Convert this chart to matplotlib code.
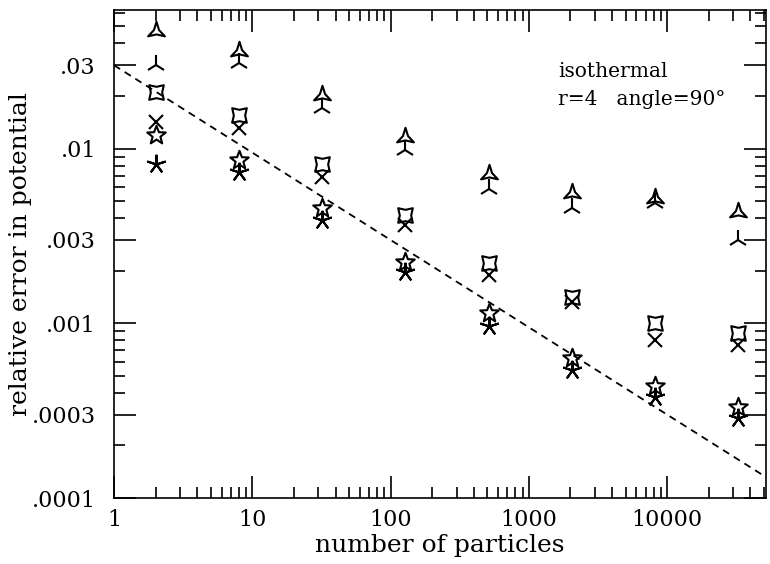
import matplotlib
matplotlib.use("Agg")
import matplotlib.pyplot as plt
import numpy as np
from matplotlib.path import Path
from matplotlib.transforms import Affine2D
from matplotlib.ticker import FixedLocator, NullFormatter

plt.rcParams['font.family'] = ['DejaVu Serif']

# number of particles
n = [2, 8, 32, 128, 512, 2048, 8192, 32768]

# relative error in potential, one list per marker type
err_tri = [0.0474, 0.036, 0.0202, 0.0116, 0.0072, 0.0056, 0.0052, 0.00435]
err_y = [0.030, 0.031, 0.017, 0.0098, 0.0059, 0.00457, 0.00487, 0.0030]
err_star4 = [0.021, 0.0155, 0.0082, 0.00415, 0.0022, 0.00142, 0.0010, 0.00088]
err_x = [0.0142, 0.0131, 0.00686, 0.00363, 0.00189, 0.00133, 0.0008, 0.00075]
err_star5 = [0.0119, 0.0086, 0.00456, 0.00224, 0.00114, 0.000634, 0.000435, 0.00033]
err_ast = [0.0082, 0.0073, 0.0039, 0.00197, 0.00096, 0.00054, 0.00038, 0.000286]

# reference slope line: 0.03 / sqrt(N)
line_coef = 0.03
line_pow = -0.5

ytick_vals = [1e-4, 3e-4, 1e-3, 3e-3, 1e-2, 3e-2]
ytick_labels = ['.0001', '.0003', '.001', '.003', '.01', '.03']
xtick_vals = [1, 10, 100, 1000, 10000]
xtick_labels = ['1', '10', '100', '1000', '10000']

# marker shapes
tri3 = Path.unit_regular_star(3, 0.3)
star4 = Affine2D().rotate_deg(45).transform_path(Path.unit_regular_star(4, 0.55))
star5 = Path.unit_regular_star(5, 0.42)

fig = plt.figure(figsize=(7.7, 5.64), dpi=100)
ax = fig.add_axes([0.148, 0.117, 0.847, 0.865])
ax.set_xscale('log')
ax.set_yscale('log')

lw = 1.5
ax.plot(n, err_tri, ls='none', marker=tri3, ms=14, mfc='none', mec='black', mew=lw)
ax.plot(n, err_y, ls='none', marker='2', ms=14, mec='black', mew=lw)
ax.plot(n, err_star4, ls='none', marker=star4, ms=10.5, mfc='none', mec='black', mew=lw)
ax.plot(n, err_x, ls='none', marker='x', ms=10, mec='black', mew=lw)
ax.plot(n, err_star5, ls='none', marker=star5, ms=14, mfc='none', mec='black', mew=lw)
ax.plot(n, err_ast, ls='none', marker=(5, 2, 0), ms=14, mec='black', mew=lw)

xl = np.array([1, 5.2e4])
ax.plot(xl, line_coef * xl ** line_pow, ls=(0, (4, 3)), color='black', lw=1.3)

ax.set_xlim(1, 5.2e4)
ax.set_ylim(1e-4, 0.062)

ax.xaxis.set_major_locator(FixedLocator(xtick_vals))
ax.set_xticklabels(xtick_labels)
xminor = [m * 10 ** d for d in range(0, 5) for m in range(2, 10) if m * 10 ** d < 5.2e4]
ax.xaxis.set_minor_locator(FixedLocator(xminor))
ax.xaxis.set_minor_formatter(NullFormatter())

ax.yaxis.set_major_locator(FixedLocator(ytick_vals))
ax.set_yticklabels(ytick_labels)
yminor = [m * 10 ** d for d in range(-4, -1) for m in range(2, 10) if m * 10 ** d < 0.062]
ax.yaxis.set_minor_locator(FixedLocator(yminor))
ax.yaxis.set_minor_formatter(NullFormatter())

ax.tick_params(which='both', direction='in', top=True, right=True, width=1.2, colors='black')
ax.tick_params(which='major', length=16, labelsize=16)
ax.tick_params(axis='x', which='major', pad=8)
ax.tick_params(axis='y', which='major', pad=13)
ax.tick_params(which='minor', length=8)
for s in ax.spines.values():
    s.set_linewidth(1.2)

ax.set_xlabel('number of particles', fontsize=18, labelpad=2)
ax.set_ylabel('relative error in potential', fontsize=18, labelpad=0)

ax.text(0.681, 0.863, 'isothermal', transform=ax.transAxes, fontsize=14.5)
ax.text(0.681, 0.805, 'r=4   angle=90°', transform=ax.transAxes, fontsize=14.5)

fig.savefig('out.png', dpi=100)
